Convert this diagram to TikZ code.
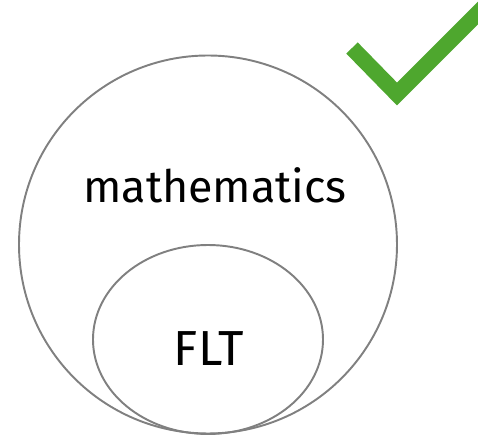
\documentclass[tikz,border=0pt]{standalone}
\usepackage{fontspec}
\setmainfont{Fira Sans}
\usepackage{xcolor}
\usetikzlibrary{shapes.geometric,positioning,calc}
\definecolor{setGrey}{HTML}{808080}
\definecolor{okGreen}{HTML}{4EA72E}

\begin{document}
\begin{tikzpicture}[x=0.02cm,y=-0.02cm,
  setline/.style={draw=setGrey,line width=1.1pt},
  lbl/.style={inner sep=0pt,anchor=base},
  tick/.style={draw=okGreen,line width=16*0.02cm,line join=miter}]
\useasboundingbox (0,0) rectangle (478,439);

\node[setline,circle,minimum size=378*0.02cm,inner sep=0pt] (big) at (208,244.5) {};
\node[setline,ellipse,minimum width=230*0.02cm,minimum height=189*0.02cm,inner sep=0pt] (inner) at (208,339.5) {};

\node[lbl,font=\fontsize{25.5}{31}\selectfont] (math) at (215,203) {mathematics};
\node[lbl,font=\fontsize{28}{34}\selectfont] (flt)  at (209,366) {FLT};

% check mark
\coordinate (ck1) at (352,48);
\coordinate (ck2) at (397,94);
\coordinate (ck3) at (490,1);
\draw[tick] (ck1) -- (ck2) -- (ck3);
\end{tikzpicture}
\end{document}
